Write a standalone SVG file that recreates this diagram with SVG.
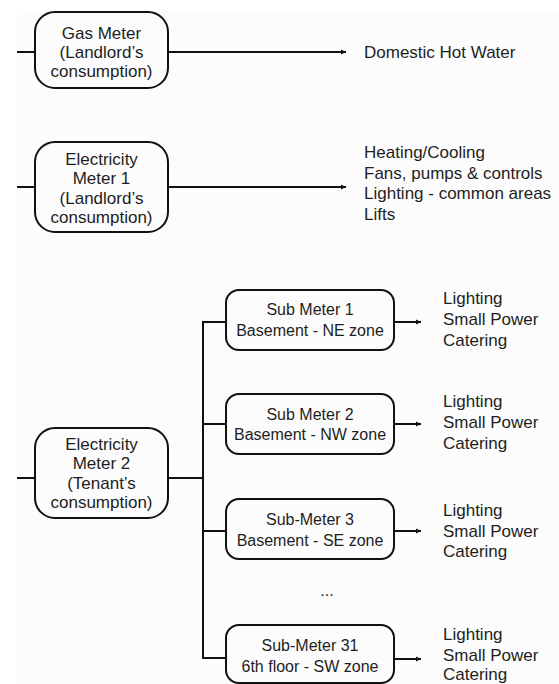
<svg xmlns="http://www.w3.org/2000/svg" width="559" height="684" viewBox="0 0 559 684">
<style>
  .box { fill: none; stroke: #111; stroke-width: 2; }
  .ln { fill: none; stroke: #111; stroke-width: 2; }
  text { font-family: "Liberation Sans", Arial, sans-serif; fill: #1e1e1e; }
  .t17 { font-size: 17px; }
  .t16 { font-size: 16px; }
  .c { text-anchor: middle; }
</style>
<defs>
  <marker id="arr" markerUnits="userSpaceOnUse" markerWidth="8" markerHeight="8" refX="6" refY="4" orient="auto">
    <path d="M1,1.5 L6,4 L1,6.5 Z" fill="#111"/>
  </marker>
</defs>
<rect x="0" y="0" width="559" height="684" fill="#ffffff"/>
<rect x="17" y="10" width="542" height="674" fill="#fcfcfc"/>

<g id="connectors">
  <path class="ln" d="M17,52 H35"/>
  <path class="ln" d="M168,52 H346" marker-end="url(#arr)"/>
  <path class="ln" d="M17,187 H35"/>
  <path class="ln" d="M168,187 H346" marker-end="url(#arr)"/>
  <path class="ln" d="M17,478 H35"/>
  <path class="ln" d="M168,478 H203"/>
  <path class="ln" d="M226,322 H203 V658 H226"/>
  <path class="ln" d="M203,424 H226"/>
  <path class="ln" d="M203,531 H226"/>
  <path class="ln" d="M394,322 H421" marker-end="url(#arr)"/>
  <path class="ln" d="M394,424 H421" marker-end="url(#arr)"/>
  <path class="ln" d="M394,531 H421" marker-end="url(#arr)"/>
  <path class="ln" d="M394,659 H421" marker-end="url(#arr)"/>
</g>

<g id="gas-meter">
  <rect class="box" x="35" y="12" width="133" height="76" rx="20"/>
  <text class="t17 c" x="101.5" y="39">Gas Meter</text>
  <text class="t17 c" x="101.5" y="58">(Landlord’s</text>
  <text class="t17 c" x="101.5" y="77">consumption)</text>
</g>
<g id="dhw">
  <text class="t17" x="364" y="58">Domestic Hot Water</text>
</g>

<g id="elec-meter-1">
  <rect class="box" x="35" y="142" width="133" height="90" rx="20"/>
  <text class="t17 c" x="101.5" y="164.5">Electricity</text>
  <text class="t17 c" x="101.5" y="184">Meter 1</text>
  <text class="t17 c" x="101.5" y="203.5">(Landlord’s</text>
  <text class="t17 c" x="101.5" y="223">consumption)</text>
</g>
<g id="landlord-loads">
  <text class="t17" x="364" y="158">Heating/Cooling</text>
  <text class="t17" x="364" y="178.5">Fans, pumps &amp; controls</text>
  <text class="t17" x="364" y="199">Lighting - common areas</text>
  <text class="t17" x="364" y="219.5">Lifts</text>
</g>

<g id="elec-meter-2">
  <rect class="box" x="35" y="428" width="133" height="90" rx="20"/>
  <text class="t17 c" x="101.5" y="449.5">Electricity</text>
  <text class="t17 c" x="101.5" y="469">Meter 2</text>
  <text class="t17 c" x="101.5" y="488.5">(Tenant’s</text>
  <text class="t17 c" x="101.5" y="508">consumption)</text>
</g>

<g id="sub-meter-1">
  <rect class="box" x="226" y="290" width="168" height="60" rx="13"/>
  <text class="t16 c" x="310" y="314.5">Sub Meter 1</text>
  <text class="t16 c" x="310" y="335.5">Basement - NE zone</text>
</g>
<g id="loads-1">
  <text class="t17" x="443" y="304">Lighting</text>
  <text class="t17" x="443" y="325">Small Power</text>
  <text class="t17" x="443" y="346">Catering</text>
</g>

<g id="sub-meter-2">
  <rect class="box" x="226" y="394" width="168" height="60" rx="13"/>
  <text class="t16 c" x="310" y="419.5">Sub Meter 2</text>
  <text class="t16 c" x="310" y="439.5">Basement - NW zone</text>
</g>
<g id="loads-2">
  <text class="t17" x="443" y="407">Lighting</text>
  <text class="t17" x="443" y="428">Small Power</text>
  <text class="t17" x="443" y="449">Catering</text>
</g>

<g id="sub-meter-3">
  <rect class="box" x="226" y="499" width="168" height="60" rx="13"/>
  <text class="t16 c" x="310" y="524.5">Sub-Meter 3</text>
  <text class="t16 c" x="310" y="545.5">Basement - SE zone</text>
</g>
<g id="loads-3">
  <text class="t17" x="443" y="516">Lighting</text>
  <text class="t17" x="443" y="537">Small Power</text>
  <text class="t17" x="443" y="557">Catering</text>
</g>

<g id="ellipsis">
  <text class="t16 c" x="327" y="596">...</text>
</g>

<g id="sub-meter-31">
  <rect class="box" x="226" y="625" width="168" height="58" rx="13"/>
  <text class="t16 c" x="310" y="651">Sub-Meter 31</text>
  <text class="t16 c" x="310" y="672">6th floor - SW zone</text>
</g>
<g id="loads-31">
  <text class="t17" x="443" y="640">Lighting</text>
  <text class="t17" x="443" y="660.5">Small Power</text>
  <text class="t17" x="443" y="680">Catering</text>
</g>
</svg>
